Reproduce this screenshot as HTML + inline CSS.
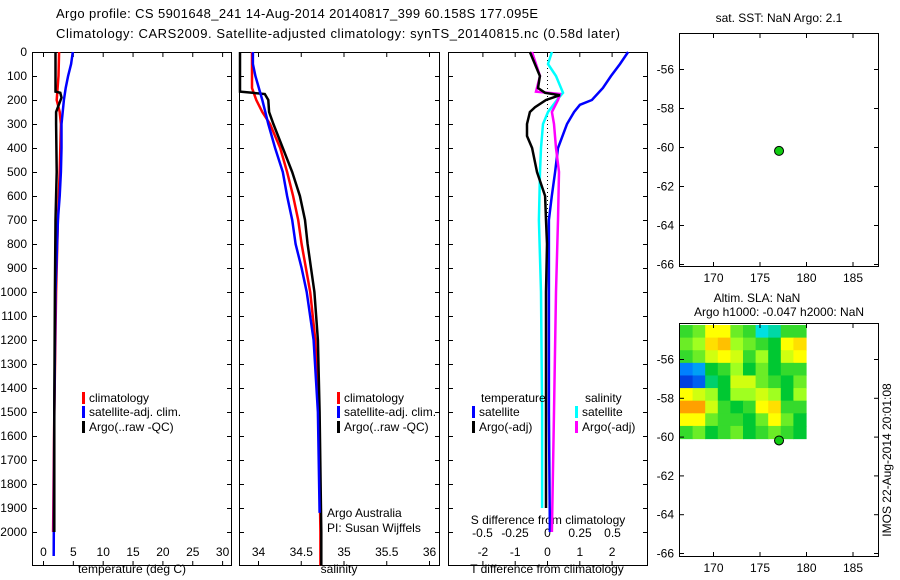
<!DOCTYPE html>
<html><head><meta charset="utf-8"><style>
body{margin:0;background:#fff}
svg{display:block;font-family:"Liberation Sans",sans-serif;font-size:12px}
</style></head><body>
<svg id="c" width="900" height="580" xmlns="http://www.w3.org/2000/svg"></svg>
<script>
// ---- data ----
const depthTicks=[0,100,200,300,400,500,600,700,800,900,1000,1100,1200,1300,1400,1500,1600,1700,1800,1900,2000];
const tempTicks=[0,5,10,15,20,25,30];
const salTicks=[34,34.5,35,35.5,36];
const tdiffTicks=[-2,-1,0,1,2];
const sdiffTicks=[-0.5,-0.25,0,0.25,0.5];
const sdiffTickLabels=["-0.5","-0.25","0","0.25","0.5"];
const lonTicks=[170,175,180,185];
const latTicks=[-56,-58,-60,-62,-64,-66];

const tDepthArgo=[0,165,170,190,250,300,500,600,700,1000,1500,2000];
const tArgo=[2.1,2.1,2.9,3.1,2.2,2.2,2.3,2.2,2.1,2.0,1.9,1.9];
const tDepthClim=[0,100,200,250,300,500,700,1000,1500,2000];
const tClim=[2.7,2.6,2.3,2.8,3.0,2.8,2.5,2.2,1.9,1.7];
const tDepthSat=[0,50,100,150,200,250,300,400,500,600,700,1000,1500,2100];
const tSat=[5.0,4.7,4.2,3.8,3.5,3.3,3.1,3.1,3.0,2.8,2.5,2.1,1.9,1.8];

const sDepthArgo=[0,165,175,200,250,300,400,500,600,700,800,900,1000,1200,1500,2000,2140];
const sArgo=[33.79,33.79,34.08,34.12,34.13,34.18,34.29,34.40,34.49,34.55,34.58,34.62,34.66,34.70,34.72,34.74,34.74];
const sDepthClim=[0,150,200,250,300,400,500,600,700,800,900,1000,1200,1500,2000,2140];
const sClim=[33.93,33.93,33.98,34.05,34.14,34.26,34.34,34.41,34.47,34.51,34.56,34.61,34.67,34.71,34.73,34.73];
const sDepthSat=[0,50,100,200,300,400,500,600,700,800,900,1000,1200,1500,1920];
const sSat=[33.94,33.94,33.97,34.05,34.12,34.20,34.29,34.34,34.40,34.44,34.51,34.57,34.65,34.70,34.72];

const dtDepthArgo=[0,100,150,170,180,200,230,250,300,350,400,500,600,700,800,1000,1500,1900];
const dtArgo=[-0.53,-0.22,-0.28,-0.06,0.40,-0.03,-0.37,-0.53,-0.62,-0.62,-0.46,-0.31,-0.06,-0.03,0,-0.03,-0.03,-0.03];
const dtDepthSat=[0,50,100,150,200,220,250,300,400,500,600,700,1000,1500,2000];
const dtSat=[2.51,2.26,1.98,1.73,1.39,1.02,0.84,0.62,0.34,0.25,0.15,0.06,0.06,0.06,0.09];
const dsDepthArgo=[0,100,165,175,200,250,300,400,500,700,1000,1500,2000];
const dsArgo=[-0.115,-0.054,-0.085,0.10,0.085,0.038,0.054,0.069,0.092,0.085,0.069,0.054,0.038];
const dsDepthSat=[0,50,100,170,200,250,300,400,500,700,1000,1500,1900];
const dsSat=[0.038,0.008,0.069,0.123,0.077,0.008,-0.031,-0.046,-0.054,-0.062,-0.046,-0.038,-0.038];

const argoLon=177.1, argoLat=-60.2;
const slaLon0=166.3, slaLon1=180, slaLat0=-54.0, slaLat1=-60.1;
const slaGrid=[
[0.1,0.2,0.5,0.5,0.2,0.1,-0.3,-0.2,0.1,0.1],
[0.2,0.3,0.6,0.7,0.3,0.2,0.1,0.0,0.5,0.6],
[0.1,0.2,0.4,0.5,0.4,0.1,0.3,0.0,0.4,0.5],
[-0.6,-0.5,0.0,0.1,0.3,0.0,0.2,0.0,0.1,0.1],
[-0.8,-0.7,-0.1,0.0,0.4,0.4,0.2,0.1,0.0,0.2],
[0.5,0.4,0.3,0.0,0.3,0.3,0.4,0.3,0.0,0.3],
[0.8,0.8,0.4,0.1,0.0,0.1,0.5,0.6,0.1,0.1],
[0.5,0.5,0.2,0.1,0.1,0.0,0.2,0.5,0.2,0.0],
[0.1,0.2,0.0,0.1,0.2,0.0,0.1,0.2,0.1,0.0]];

// ---- helpers ----
const svg=document.getElementById('c');
const NS='http://www.w3.org/2000/svg';
function el(tag,attrs,parent){const e=document.createElementNS(NS,tag);for(const k in attrs)e.setAttribute(k,attrs[k]);(parent||svg).appendChild(e);return e;}
function txt(s,x,y,anchor,parent){const t=el('text',{x:x,y:y,'text-anchor':anchor||'start',fill:'#000'},parent);t.textContent=s;return t;}
const yD=d=>52+d*0.24;
const P1={x0:32,x1:231}, P2={x0:239,x1:439}, P3={x0:448,x1:647};
const xT=v=>43+v*5.97;
const xS=v=>258+(v-34)*85.5;
const xDT=v=>547+v*32.3;
const xDS=v=>547+v*130;
const mX=v=>713+(v-170)*9.3;
const m1Y=v=>69+(-56-v)*19.5;
const m2Y=v=>359+(-56-v)*19.4;

function frame(P,name){
  el('rect',{x:P.x0+0.5,y:52.5,width:P.x1-P.x0,height:513,fill:'none',stroke:'#000'});
}
function line(xs,ds,xf,color,name,w){
  const pts=xs.map((v,i)=>xf(v).toFixed(1)+','+yD(ds[i]).toFixed(1)).join(' ');
  const p=el('polyline',{points:pts,fill:'none',stroke:color,'stroke-width':w||2.5});
  
  
}

// titles
let t=txt('Argo profile: CS 5901648_241 14-Aug-2014 20140817_399 60.158S 177.095E',56,18);
t.setAttribute('font-size','13');t.setAttribute('textLength','482');

t=txt('Climatology: CARS2009. Satellite-adjusted climatology: synTS_20140815.nc (0.58d later)',56,38);
t.setAttribute('font-size','13');t.setAttribute('textLength','564');


// panels
[[P1,'temperature-panel'],[P2,'salinity-panel'],[P3,'difference-panel']].forEach(([P,n])=>frame(P,n));
depthTicks.forEach(d=>{
  [P1,P2,P3].forEach(P=>{
    el('line',{x1:P.x0,y1:yD(d)+.5,x2:P.x0+5,y2:yD(d)+.5,stroke:'#000'});
    el('line',{x1:P.x1-4,y1:yD(d)+.5,x2:P.x1+1,y2:yD(d)+.5,stroke:'#000'});
  });
  const l=txt(String(d),27,yD(d)+4,'end');
  
  
});
function xticks(ticks,xf,labels,P,ly,top,bottom){
  ticks.forEach((v,i)=>{
    const x=xf(v)+.5;
    if(top) el('line',{x1:x,y1:52,x2:x,y2:57,stroke:'#000'});
    if(bottom) el('line',{x1:x,y1:561,x2:x,y2:566,stroke:'#000'});
    if(ly){const l=txt(labels[i],x,ly,'middle');
      
      }
  });
}
xticks(tempTicks,xT,tempTicks.map(String),P1,556,true,true);
xticks(salTicks,xS,salTicks.map(String),P2,556,true,true);
xticks(tdiffTicks,xDT,tdiffTicks.map(String),P3,556,true,true);
xticks(sdiffTicks,xDS,sdiffTickLabels,P3,537,false,false);

[['temperature (deg C)',132,'temperature-axis-title'],['salinity',339,'salinity-axis-title'],['T difference from climatology',547,'t-diff-axis-title']].forEach(a=>{
  const l=txt(a[0],a[1],573,'middle');});
t=txt('S difference from climatology',548,524,'middle');

line(tClim,tDepthClim,xT,'#f00','temp-climatology-line');
line(tSat,tDepthSat,xT,'#00f','temp-satellite-line');
line(tArgo,tDepthArgo,xT,'#000','temp-argo-line');
line(sClim,sDepthClim,xS,'#f00','sal-climatology-line');
line(sArgo,sDepthArgo,xS,'#000','sal-argo-line');
line(sSat,sDepthSat,xS,'#00f','sal-satellite-line');
el('line',{x1:547.5,y1:52,x2:547.5,y2:yD(700),stroke:'#000','stroke-dasharray':'1,3'});
line(dsSat,dsDepthSat,xDS,'#0ff','s-diff-satellite-line');
line(dtSat,dtDepthSat,xDT,'#00f','t-diff-satellite-line');
line(dsArgo,dsDepthArgo,xDS,'#f0f','s-diff-argo-line');
line(dtArgo,dtDepthArgo,xDT,'#000','t-diff-argo-line');

function leg(x,y,color,label,name){
  const g=el('g',{});
  el('rect',{x:x,y:y-10,width:3,height:12,fill:color},g);
  txt(label,x+7,y,'start',g);
}
leg(82,402,'#f00','climatology','legend-climatology');
leg(82,416,'#00f','satellite-adj. clim.','legend-satellite');
leg(82,431,'#000','Argo(..raw -QC)','legend-argo');
leg(337,402,'#f00','climatology','legend-climatology-2');
leg(337,416,'#00f','satellite-adj. clim.','legend-satellite-2');
leg(337,431,'#000','Argo(..raw -QC)','legend-argo-2');
t=txt('temperature',481,402);
t=txt('salinity',585,402);
leg(472,416,'#00f','satellite','legend-t-satellite');
leg(472,431,'#000','Argo(-adj)','legend-t-argo');
leg(575,416,'#0ff','satellite','legend-s-satellite');
leg(575,431,'#f0f','Argo(-adj)','legend-s-argo');
t=txt('Argo Australia',327,517);
t=txt('PI: Susan Wijffels',327,532);

function mapFrame(y0,y1,yf,name){
  const r=el('rect',{x:679.5,y:y0+.5,width:199,height:y1-y0,fill:'none',stroke:'#000'});
  
  lonTicks.forEach(v=>{const x=mX(v)+.5;
    el('line',{x1:x,y1:y0,x2:x,y2:y0+5,stroke:'#000'});
    el('line',{x1:x,y1:y1-4,x2:x,y2:y1+1,stroke:'#000'});
    const l=txt(String(v),x,y1+16,'middle');});
  latTicks.forEach(v=>{const y=yf(v)+.5;
    el('line',{x1:679,y1:y,x2:684,y2:y,stroke:'#000'});
    el('line',{x1:874,y1:y,x2:879,y2:y,stroke:'#000'});
    const l=txt(String(v),674,y+4,'end');});
}
const stops=[[-1,[0,0,192]],[-0.6,[0,128,255]],[-0.3,[0,224,224]],[0,[0,200,50]],[0.3,[160,255,32]],[0.5,[255,255,0]],[0.8,[255,160,0]],[1,[224,64,0]]];
function cmap(v){for(let i=1;i<stops.length;i++){if(v<=stops[i][0]){const a=stops[i-1],b=stops[i];const f=(v-a[0])/(b[0]-a[0]);
  return 'rgb('+a[1].map((c,k)=>Math.round(c+(b[1][k]-c)*f)).join(',')+')';}}return 'rgb(224,64,0)';}
const hx0=Math.max(680,mX(slaLon0)), hx1=mX(slaLon1), hy0=325, hy1=m2Y(slaLat1);
const nr=slaGrid.length, nc=slaGrid[0].length;
const hm=el('g',{});
slaGrid.forEach((row,r)=>row.forEach((v,c)=>{
  const cw=(hx1-hx0)/nc, ch=(hy1-hy0)/nr;
  const cell=el('rect',{x:(hx0+c*cw).toFixed(2),y:(hy0+r*ch).toFixed(2),width:(cw+0.6).toFixed(2),height:(ch+0.6).toFixed(2),fill:cmap(v)},hm);
  
  
}));
mapFrame(33,266,m1Y,'sst-map');
mapFrame(323,556,m2Y,'sla-map');
let d=el('circle',{cx:mX(argoLon),cy:m1Y(argoLat),r:4.5,fill:'#1c1',stroke:'#000'});

d=el('circle',{cx:mX(argoLon),cy:m2Y(argoLat),r:4.5,fill:'#1c1',stroke:'#000'});

t=txt('sat. SST: NaN Argo: 2.1',779,22,'middle');
t=txt('Altim. SLA: NaN',757,302,'middle');
t=txt('Argo h1000: -0.047 h2000: NaN',779,316,'middle');
t=txt('IMOS 22-Aug-2014 20:01:08',0,0,'middle');
t.setAttribute('transform','translate(891,460) rotate(-90)');

</script>
</body></html>
